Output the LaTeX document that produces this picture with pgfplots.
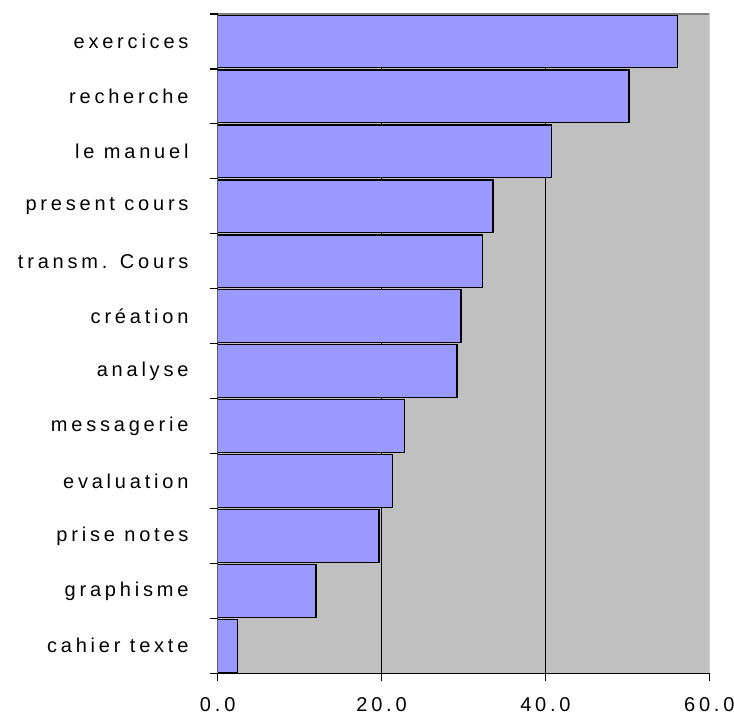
\documentclass[border=0pt]{standalone}
\usepackage{pgfplots}
\pgfplotsset{compat=1.18}
\usetikzlibrary{calc}
\usepackage{fontspec}
\setmainfont{Liberation Sans}[LetterSpace=19]
\definecolor{barfill}{HTML}{9999FF}
\definecolor{plotbg}{HTML}{C0C0C0}
\definecolor{frame}{HTML}{808080}
\begin{document}
\begin{tikzpicture}
\begin{axis}[
  scale only axis, width=491.6bp, height=659.3bp,
  xbar, bar width=0.96,
  xmin=0, xmax=60, ymin=-0.5, ymax=11.5,
  axis background/.style={fill=plotbg},
  axis line style={draw=none},
  tick label style={font=\fontsize{20bp}{24bp}\selectfont},
  xtick={0,20,40,60}, xticklabels={0.0,20.0,40.0,60.0},
  ytick={-0.5,0.5,...,11.5},
  yticklabels={cahier texte, graphisme, prise notes, evaluation, messagerie, analyse, création, transm. Cours, present cours, le manuel, recherche, exercices, {}},
  yticklabel style={inner sep=0pt, xshift=-21bp, yshift=27.47bp},
  xticklabel style={inner sep=0pt, yshift=-16bp},
  xtick pos=bottom, ytick pos=left,
  tick align=outside, major tick length=8bp,
  tick style={draw=black, line width=1.2bp},
  extra x ticks={20,40}, extra x tick labels={},
  extra x tick style={grid=major, major grid style={draw=black, line width=1.3bp}},
]
\addplot[fill=barfill, draw=black, line width=1.3bp] coordinates {
  (2.4,0) (12.0,1) (19.7,2) (21.3,3) (22.8,4) (29.2,5)
  (29.7,6) (32.3,7) (33.6,8) (40.7,9) (50.2,10) (56.1,11)
};
\draw[frame, line width=1.5bp] (rel axis cs:0,1) -- (rel axis cs:1,1) -- (rel axis cs:1,0);
\draw[black, line width=1.3bp] (rel axis cs:0,1) -- (rel axis cs:0,0) -- (rel axis cs:1,0);
\end{axis}
\pgfresetboundingbox
\path ($(current axis.south west)+(-217.7bp,-48.7bp)$) rectangle ($(current axis.north east)+(24.7bp,14bp)$);
\end{tikzpicture}
\end{document}
